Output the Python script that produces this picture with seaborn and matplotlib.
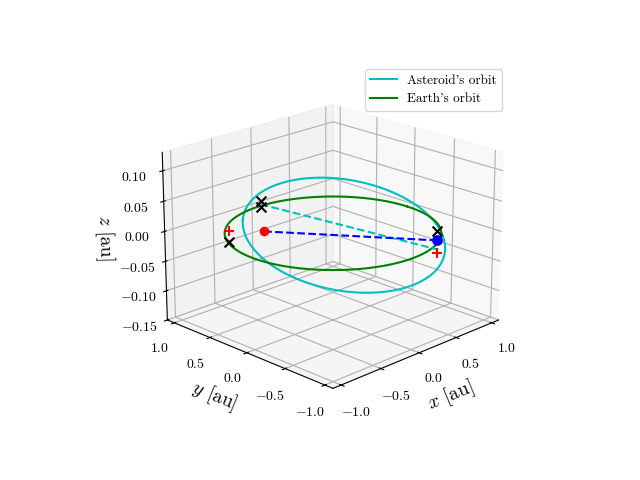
import numpy as np
import matplotlib
matplotlib.use("Agg")
import matplotlib.pyplot as plt
import seaborn as sns

plt.rcParams["font.family"] = "serif"
plt.rcParams["font.serif"] = ["cmr10", "DejaVu Serif"]
plt.rcParams["mathtext.fontset"] = "cm"
plt.rcParams["axes.formatter.use_mathtext"] = True
plt.rcParams["axes.unicode_minus"] = True

# orbital parameters
earth_radius = 1.0
ast_a = 0.935
ast_e = 0.11
ast_inc_deg = 2.6
ast_node_deg = -15.0
ast_peri_deg = 150.0

# special points (x, y, z)
red_dot = [-0.45, 0.45, 0.0]
blue_dot = [0.68, -0.68, -0.015]
cyan_start = [-0.47, 0.47, 0.045]
cyan_end = [0.68, -0.68, -0.03]
black_x = [[-0.47, 0.47, 0.05], [-0.47, 0.47, 0.04], [-0.68, 0.68, -0.018], [0.68, -0.68, 0.0]]
red_plus = [[-0.68, 0.68, 0.0], [0.69, -0.68, -0.037]]

t = np.linspace(0, 2 * np.pi, 400)
ex, ey, ez = earth_radius * np.cos(t), earth_radius * np.sin(t), 0 * t
nu = t
r = ast_a * (1 - ast_e**2) / (1 + ast_e * np.cos(nu))
w, i, O = np.radians(ast_peri_deg), np.radians(ast_inc_deg), np.radians(ast_node_deg)
xo, yo = r * np.cos(nu + w), r * np.sin(nu + w)
ax_ = xo * np.cos(O) - yo * np.cos(i) * np.sin(O)
ay_ = xo * np.sin(O) + yo * np.cos(i) * np.cos(O)
az_ = yo * np.sin(i)

fig = plt.figure(figsize=(6.4, 4.8), dpi=100)
ax = fig.add_subplot(projection="3d")
ax.plot(ax_, ay_, az_, color="c", label="Asteroid's orbit")
ax.plot(ex, ey, ez, color="g", label="Earth's orbit")
ax.plot(*zip(cyan_start, cyan_end), color="c", ls="--")
ax.plot(*zip(red_dot, blue_dot), color="b", ls="--")
ax.scatter(*red_dot, color="r", s=35, depthshade=False)
ax.scatter(*blue_dot, color="b", s=45, depthshade=False)
for p in black_x:
    ax.scatter(*p, color="k", marker="x", s=50, depthshade=False)
for p in red_plus:
    ax.scatter(*p, color="r", marker="+", s=60, depthshade=False)

ax.set_xlim(-1.1, 1.1)
ax.set_ylim(-1.1, 1.1)
ax.set_zlim(-0.15, 0.13)
ax.set_xticks([-1.0, -0.5, 0.0, 0.5, 1.0])
ax.set_yticks([-1.0, -0.5, 0.0, 0.5, 1.0])
ax.set_zticks([-0.15, -0.10, -0.05, 0.0, 0.05, 0.10])
ax.set_xticklabels(["$-1.0$", "$-0.5$", "$0.0$", "$0.5$", "$1.0$"])
ax.set_yticklabels(["$-1.0$", "$-0.5$", "$0.0$", "$0.5$", "$1.0$"])
ax.set_zticklabels(["$-0.15$", "$-0.10$", "$-0.05$", "$0.00$", "$0.05$", "$0.10$"])
ax.set_xlabel("$x$ [au]", fontsize=14)
ax.set_ylabel("$y$ [au]", fontsize=14)
ax.set_zlabel("$z$ [au]", fontsize=14)
ax.view_init(elev=20, azim=-135)
ax.legend(loc="upper right", bbox_to_anchor=(0.795, 0.87), bbox_transform=fig.transFigure, fontsize=9.5)
fig.savefig("out.png", dpi=100)
